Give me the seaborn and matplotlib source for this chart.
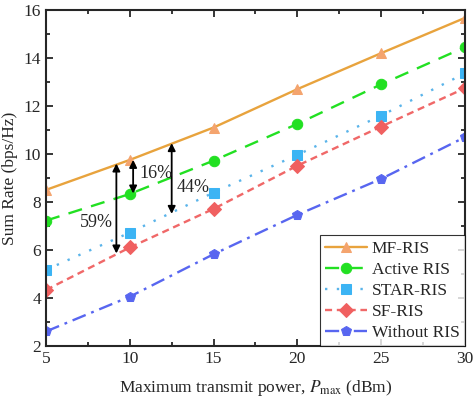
import matplotlib
matplotlib.use("Agg")
import matplotlib.pyplot as plt
from matplotlib.ticker import MultipleLocator
import seaborn as sns
import pandas as pd

power = [5, 10, 15, 20, 25, 30]
mf_ris = [8.5, 9.75, 11.1, 12.7, 14.2, 15.67]
active_ris = [7.22, 8.33, 9.72, 11.25, 12.9, 14.45]
star_ris = [5.17, 6.72, 8.39, 9.96, 11.6, 13.36]
sf_ris = [4.33, 6.1, 7.71, 9.51, 11.14, 12.74]
without_ris = [2.6, 4.05, 5.82, 7.46, 8.96, 10.7]

series = {
    "MF-RIS": mf_ris,
    "Active RIS": active_ris,
    "STAR-RIS": star_ris,
    "SF-RIS": sf_ris,
    "Without RIS": without_ris,
}
styles = {
    "MF-RIS": dict(color="#E8A33D", mfc="#F4A46E", marker="^", ls="-", dashes=None),
    "Active RIS": dict(color="#22E022", mfc="#22E022", marker="o", ls="--", dashes=(6, 4)),
    "STAR-RIS": dict(color="#5AB4EA", mfc="#3CB4F4", marker="s", ls=":", dashes=(1, 4)),
    "SF-RIS": dict(color="#F06868", mfc="#F06060", marker="D", ls="--", dashes=(3, 2)),
    "Without RIS": dict(color="#5866F0", mfc="#5866F0", marker="p", ls="-.", dashes=(6, 2.5, 1.2, 2.5)),
}

df = pd.DataFrame([(k, p, v) for k, vals in series.items() for p, v in zip(power, vals)],
                  columns=["scheme", "power", "rate"])

sns.set_style("ticks")
plt.rcParams["font.family"] = ["Liberation Serif", "DejaVu Serif"]
plt.rcParams["mathtext.fontset"] = "stix"

fig = plt.figure(figsize=(4.74, 3.98), dpi=100, facecolor="white")
ax = fig.add_axes([0.097, 0.131, 0.884, 0.844])

for name in series:
    st = styles[name]
    sub = df[df.scheme == name]
    sns.lineplot(data=sub, x="power", y="rate", ax=ax, label=name, color=st["color"],
                 marker=st["marker"], markersize=7.5, markerfacecolor=st["mfc"],
                 markeredgecolor=st["mfc"], lw=1.7, linestyle=st["ls"])
    line = ax.get_lines()[-1]
    if st["dashes"] is not None:
        line.set_dashes(st["dashes"])

# improvement arrows
arrow_kw = dict(arrowstyle="<|-|>", color="black", lw=1.3, mutation_scale=11, shrinkA=0, shrinkB=0)
ax.annotate("", xy=(9.2, 9.6), xytext=(9.2, 5.85), arrowprops=arrow_kw)
ax.annotate("", xy=(10.2, 9.75), xytext=(10.2, 8.35), arrowprops=arrow_kw)
ax.annotate("", xy=(12.5, 10.45), xytext=(12.5, 7.5), arrowprops=arrow_kw)
ax.text(8.0, 7.15, "59%", ha="center", va="center", fontsize=13)
ax.text(11.55, 9.2, "16%", ha="center", va="center", fontsize=13)
ax.text(13.75, 8.6, "44%", ha="center", va="center", fontsize=13)

ax.set_xlim(5, 30)
ax.set_ylim(2, 16)
ax.xaxis.set_major_locator(MultipleLocator(5))
ax.xaxis.set_minor_locator(MultipleLocator(2.5))
ax.yaxis.set_major_locator(MultipleLocator(2))
ax.yaxis.set_minor_locator(MultipleLocator(1))
ax.tick_params(which="both", direction="in", top=True, right=True, labelsize=12.5, width=1.3)
ax.tick_params(which="major", length=5)
ax.tick_params(which="minor", length=3)
for sp in ax.spines.values():
    sp.set_linewidth(1.5)
    sp.set_visible(True)

ax.set_xlabel(r"Maximum transmit power, $P_{\mathrm{max}}$ (dBm)", fontsize=12.5, labelpad=8)
ax.set_ylabel("Sum Rate (bps/Hz)", fontsize=12.5, labelpad=4)

leg = ax.legend(loc="lower right", fontsize=12.5, frameon=True, fancybox=False,
                edgecolor="black", handlelength=2.4, borderpad=0.3, labelspacing=0.28,
                handletextpad=0.3, borderaxespad=0.0)
leg.get_frame().set_linewidth(0.8)

fig.savefig("out.png", dpi=100)
